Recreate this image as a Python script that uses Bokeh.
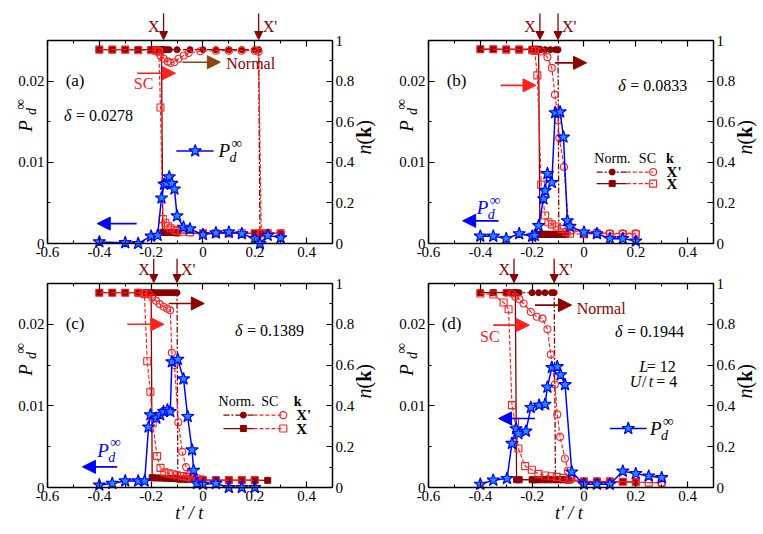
from math import pi
from bokeh.plotting import figure
from bokeh.models import LinearAxis, Range1d, FixedTicker, Label, Arrow, NormalHead
from bokeh.layouts import gridplot
from bokeh.embed import file_html
from bokeh.resources import INLINE

# ---------------- axis ticks / labels ----------------
x_ticks = [-0.6, -0.4, -0.2, 0, 0.2, 0.4]
x_minor = [-0.5, -0.3, -0.1, 0.1, 0.3, 0.5]
x_tick_labels = {-0.6: "-0.6", -0.4: "-0.4", -0.2: "-0.2", 0: "0", 0.2: "0.2", 0.4: "0.4"}
p_ticks = [0, 0.01, 0.02]
p_minor = [0.005, 0.015, 0.025]
p_tick_labels = {0: "0", 0.01: "0.01", 0.02: "0.02"}
n_ticks = [0, 0.2, 0.4, 0.6, 0.8, 1]
n_minor = [0.1, 0.3, 0.5, 0.7, 0.9]
n_tick_labels = {0: "0", 0.2: "0.2", 0.4: "0.4", 0.6: "0.6", 0.8: "0.8", 1: "1"}

# ---------------- panel (a) delta = 0.0278 ----------------
a_tp = [-0.4, -0.3, -0.25, -0.2, -0.175, -0.16, -0.15, -0.14, -0.13, -0.12, -0.11, -0.1, -0.075, -0.05, 0.0, 0.05, 0.1, 0.15, 0.2, 0.22, 0.25, 0.3]
a_pd = [0.0002, 0.0001, 0.0, 0.0009, 0.001, 0.0056, 0.0073, 0.0074, 0.0082, 0.0074, 0.0067, 0.0034, 0.002, 0.0018, 0.0011, 0.0013, 0.0014, 0.0012, 0.0006, 0.0, 0.001, 0.0007]
a_normX_t = [-0.4, -0.35, -0.3, -0.25, -0.2, -0.18, -0.16, -0.155, -0.15, -0.14, -0.13, -0.12, -0.11, -0.1, 0.0, 0.1, 0.2, 0.225, 0.25, 0.3]
a_normX_n = [0.955, 0.955, 0.955, 0.955, 0.955, 0.955, 0.955, 0.055, 0.055, 0.055, 0.055, 0.055, 0.055, 0.052, 0.05, 0.05, 0.05, 0.05, 0.05, 0.05]
a_normXp_t = [-0.17, -0.16, -0.15, -0.14, -0.13, -0.1, -0.05, 0.0, 0.05, 0.1, 0.15, 0.2, 0.215, 0.22, 0.25, 0.3]
a_normXp_n = [0.955, 0.955, 0.955, 0.955, 0.955, 0.955, 0.955, 0.955, 0.955, 0.955, 0.955, 0.955, 0.955, 0.05, 0.055, 0.05]
a_scX_t = [-0.4, -0.35, -0.3, -0.25, -0.2, -0.18, -0.17, -0.164, -0.155, -0.145, -0.135, -0.125, -0.11, -0.1, -0.08, -0.05, 0.0, 0.05, 0.1, 0.15, 0.2, 0.225, 0.25, 0.3]
a_scX_n = [0.955, 0.955, 0.955, 0.952, 0.952, 0.95, 0.945, 0.67, 0.12, 0.1, 0.085, 0.075, 0.068, 0.062, 0.058, 0.055, 0.05, 0.05, 0.05, 0.05, 0.05, 0.05, 0.05, 0.05]
a_scXp_t = [-0.174, -0.164, -0.151, -0.136, -0.125, -0.11, -0.094, -0.074, -0.055, -0.01, 0.05, 0.1, 0.15, 0.2, 0.215, 0.225, 0.25, 0.3]
a_scXp_n = [0.951, 0.926, 0.91, 0.897, 0.89, 0.893, 0.91, 0.926, 0.939, 0.947, 0.95, 0.95, 0.95, 0.95, 0.945, 0.05, 0.05, 0.05]

# ---------------- panel (b) delta = 0.0833 ----------------
b_tp = [-0.4, -0.35, -0.3, -0.25, -0.2, -0.19, -0.175, -0.156, -0.15, -0.141, -0.124, -0.111, -0.092, -0.079, -0.064, -0.054, 0.0, 0.05, 0.1, 0.15, 0.2]
b_pd = [0.0009, 0.0009, 0.0006, 0.0012, 0.0009, 0.001, 0.0022, 0.0055, 0.0065, 0.0086, 0.0075, 0.0161, 0.0162, 0.0131, 0.0028, 0.0021, 0.0014, 0.0012, 0.0006, 0.0006, 0.0003]
b_normX_t = [-0.4, -0.35, -0.3, -0.25, -0.2, -0.19, -0.175, -0.17, -0.16, -0.15, -0.14, -0.13, -0.12, -0.11, -0.1, -0.09, -0.08, -0.07]
b_normX_n = [0.957, 0.957, 0.957, 0.957, 0.957, 0.957, 0.957, 0.045, 0.045, 0.045, 0.045, 0.045, 0.045, 0.045, 0.045, 0.045, 0.045, 0.045]
b_normXp_t = [-0.17, -0.15, -0.13, -0.11, -0.1, -0.097, -0.09, -0.08, -0.07]
b_normXp_n = [0.955, 0.955, 0.955, 0.955, 0.955, 0.045, 0.045, 0.045, 0.045]
b_scX_t = [-0.4, -0.35, -0.3, -0.25, -0.2, -0.19, -0.18, -0.165, -0.15, -0.137, -0.124, -0.105, -0.086, -0.067, -0.054, 0.0, 0.05, 0.1, 0.15, 0.2]
b_scX_n = [0.957, 0.957, 0.955, 0.955, 0.952, 0.948, 0.828, 0.29, 0.138, 0.105, 0.094, 0.084, 0.072, 0.056, 0.048, 0.046, 0.049, 0.046, 0.046, 0.046]
b_scXp_t = [-0.188, -0.163, -0.141, -0.124, -0.112, -0.1, -0.095, -0.077, -0.06, -0.045, 0.0, 0.05, 0.1, 0.15, 0.2]
b_scXp_n = [0.951, 0.946, 0.918, 0.865, 0.733, 0.607, 0.52, 0.377, 0.1, 0.066, 0.05, 0.055, 0.05, 0.05, 0.05]

# ---------------- panel (c) delta = 0.1389 ----------------
c_tp = [-0.4, -0.35, -0.3, -0.25, -0.225, -0.21, -0.203, -0.18, -0.165, -0.152, -0.137, -0.126, -0.12, -0.097, -0.075, -0.059, -0.042, -0.036, -0.023, 0.0, 0.05, 0.1, 0.15, 0.2]
c_pd = [0.0003, 0.0005, 0.0008, 0.0008, 0.0008, 0.0074, 0.0089, 0.0085, 0.0089, 0.0093, 0.0095, 0.0093, 0.0154, 0.0157, 0.0133, 0.0087, 0.0046, 0.0021, 0.0005, 0.0004, 0.0005, 0.0, 0.0, 0.0]
c_normX_t = [-0.4, -0.35, -0.3, -0.25, -0.22, -0.2, -0.196, -0.18, -0.16, -0.14, -0.12, -0.1, -0.08, -0.06, -0.04, -0.02, 0.0, 0.05, 0.1, 0.15, 0.2, 0.25]
c_normX_n = [0.955, 0.955, 0.955, 0.955, 0.955, 0.955, 0.048, 0.047, 0.046, 0.045, 0.044, 0.043, 0.042, 0.041, 0.04, 0.038, 0.036, 0.036, 0.036, 0.036, 0.036, 0.035]
c_normXp_t = [-0.2, -0.19, -0.18, -0.17, -0.16, -0.15, -0.14, -0.13, -0.12, -0.11, -0.1, -0.097, -0.09, -0.08, -0.07, -0.06]
c_normXp_n = [0.955, 0.955, 0.955, 0.955, 0.955, 0.955, 0.955, 0.955, 0.955, 0.955, 0.955, 0.04, 0.04, 0.04, 0.04, 0.04]
c_scX_t = [-0.4, -0.35, -0.3, -0.25, -0.226, -0.215, -0.203, -0.194, -0.177, -0.164, -0.149, -0.132, -0.117, -0.1, -0.081, -0.062, -0.042, -0.023, 0.0, 0.05, 0.1, 0.15, 0.2]
c_scX_n = [0.955, 0.955, 0.955, 0.955, 0.948, 0.619, 0.469, 0.314, 0.154, 0.096, 0.074, 0.069, 0.065, 0.06, 0.056, 0.052, 0.044, 0.036, 0.036, 0.036, 0.036, 0.036, 0.036]
c_scXp_t = [-0.25, -0.23, -0.209, -0.196, -0.181, -0.167, -0.151, -0.138, -0.126, -0.12, -0.11, -0.095, -0.08, -0.065, -0.05, -0.04, -0.02, 0.0]
c_scXp_n = [0.955, 0.952, 0.948, 0.931, 0.915, 0.899, 0.886, 0.877, 0.869, 0.66, 0.6, 0.32, 0.175, 0.1, 0.065, 0.05, 0.045, 0.04]

# ---------------- panel (d) delta = 0.1944 ----------------
d_tp = [-0.4, -0.35, -0.297, -0.278, -0.262, -0.253, -0.224, -0.205, -0.173, -0.15, -0.141, -0.124, -0.103, -0.09, -0.073, -0.047, 0.0, 0.05, 0.1, 0.15, 0.2, 0.25, 0.3]
d_pd = [0.0004, 0.0009, 0.0011, 0.0054, 0.0072, 0.0066, 0.0069, 0.0098, 0.0101, 0.0102, 0.0123, 0.0147, 0.0148, 0.0138, 0.0126, 0.0019, 0.0004, 0.0004, 0.0004, 0.002, 0.0017, 0.0014, 0.0012]
d_normX_t = [-0.4, -0.35, -0.3, -0.28, -0.265, -0.26, -0.25, -0.2, -0.19, -0.18, -0.16, -0.14, -0.12, -0.1, -0.08, -0.06, 0.0, 0.05, 0.1, 0.15, 0.2]
d_normX_n = [0.955, 0.955, 0.955, 0.955, 0.955, 0.038, 0.038, 0.038, 0.038, 0.038, 0.038, 0.038, 0.038, 0.038, 0.038, 0.036, 0.028, 0.028, 0.028, 0.028, 0.028]
d_normXp_t = [-0.265, -0.25, -0.2, -0.175, -0.15, -0.125, -0.115, -0.11, -0.1, -0.09, -0.08]
d_normXp_n = [0.955, 0.955, 0.955, 0.955, 0.955, 0.955, 0.955, 0.038, 0.038, 0.038, 0.038]
d_scX_t = [-0.4, -0.35, -0.31, -0.291, -0.278, -0.266, -0.253, -0.227, -0.201, -0.176, -0.15, -0.125, -0.105, -0.08, -0.054, 0.0, 0.05, 0.1, 0.15, 0.2, 0.25, 0.3]
d_scX_n = [0.951, 0.946, 0.907, 0.874, 0.404, 0.322, 0.191, 0.105, 0.087, 0.067, 0.059, 0.055, 0.052, 0.047, 0.041, 0.031, 0.03, 0.03, 0.028, 0.026, 0.024, 0.023]
d_scXp_t = [-0.3, -0.276, -0.265, -0.249, -0.233, -0.205, -0.182, -0.16, -0.141, -0.128, -0.112, -0.103, -0.092, -0.073, -0.062, -0.05, 0.0, 0.1, 0.2, 0.3]
d_scXp_n = [0.955, 0.951, 0.935, 0.923, 0.902, 0.861, 0.837, 0.828, 0.776, 0.652, 0.505, 0.358, 0.248, 0.142, 0.082, 0.047, 0.03, 0.028, 0.026, 0.023]

# ---------------- styling ----------------
FONT = "Liberation Serif"
DARK = "#8B0000"
BROWN = "#8B4513"
RED = "#FF2020"
BLUE = "#0000FF"
STAR = "#1E90FF"
X0, X1 = -0.6, 0.5
PMAX = 0.025          # P_d axis top; n(k) axis 0..1 shares the same box
PIX = {}              # per-figure data units per screen pixel
MK = 6                # square / circle marker size
SK = 13               # star marker size


def style_axis(ax, ticks, minor, labels, show=True):
    ax.ticker = FixedTicker(ticks=ticks, minor_ticks=minor)
    ax.major_label_overrides = labels if show else {t: "" for t in ticks}
    ax.major_tick_in = 6
    ax.major_tick_out = 0
    ax.minor_tick_in = 3
    ax.minor_tick_out = 0
    ax.axis_line_width = 1.5
    ax.major_tick_line_width = 1.2
    ax.minor_tick_line_width = 1.0
    ax.axis_line_color = "black"
    ax.major_tick_line_color = "black"
    ax.minor_tick_line_color = "black"
    ax.major_label_text_font = FONT
    ax.major_label_text_font_size = "15px"
    ax.major_label_text_color = "black"
    ax.major_label_standoff = 3


def make_panel(cw, ch, fl, fr, ft, fb):
    """Canvas cw x ch px; the plot box spans px fl..fr horizontally and ft..fb vertically."""
    sx = (X1 - X0) / (fr - fl)
    sy = PMAX / (fb - ft)
    y0, y1 = -(ch - fb) * sy, PMAX + ft * sy
    p = figure(width=cw, height=ch,
               x_range=Range1d(X0 - fl * sx, X1 + (cw - fr) * sx),
               y_range=Range1d(y0, y1),
               x_axis_location=None, y_axis_location=None,
               output_backend="svg", toolbar_location=None, min_border=0)
    p.extra_y_ranges = {"n": Range1d(y0 / PMAX, y1 / PMAX)}
    p.grid.visible = False
    p.outline_line_color = None
    p.background_fill_color = "white"
    p.border_fill_color = "white"
    left = LinearAxis(fixed_location=X0, bounds=(0, PMAX))
    style_axis(left, p_ticks, p_minor, p_tick_labels)
    p.add_layout(left, "left")
    right = LinearAxis(y_range_name="n", fixed_location=X1, bounds=(0, 1))
    style_axis(right, n_ticks, n_minor, n_tick_labels)
    p.add_layout(right, "right")
    bottom = LinearAxis(fixed_location=0, bounds=(X0, X1))
    style_axis(bottom, x_ticks, x_minor, x_tick_labels)
    p.add_layout(bottom, "below")
    top = LinearAxis(fixed_location=PMAX, bounds=(X0, X1))
    style_axis(top, x_ticks, x_minor, {}, show=False)
    p.add_layout(top, "above")
    PIX[p.id] = (sx, sy)
    return p


def txt(p, x, y, s, size=16, color="black", style="normal", align="left", baseline="middle", angle=0):
    p.add_layout(Label(x=x, y=y, text=s, text_font=FONT, text_font_size=f"{size}px",
                       text_color=color, text_font_style=style, text_align=align,
                       text_baseline=baseline, angle=angle))


def arrow(p, x0, y0, x1, y1, color, size=13, width=1.6):
    p.add_layout(Arrow(end=NormalHead(size=size, fill_color=color, line_color=color, line_width=1),
                       x_start=x0, y_start=y0, x_end=x1, y_end=y1,
                       line_color=color, line_width=width))


def curves(p, nx_t, nx_n, nxp_t, nxp_n, sx_t, sx_n, sxp_t, sxp_n, tp, pd):
    p.line(nx_t, nx_n, y_range_name="n", line_color=DARK, line_width=1.3)
    p.scatter(nx_t, nx_n, y_range_name="n", marker="square", size=MK, line_color=DARK, fill_color=DARK)
    p.line(nxp_t, nxp_n, y_range_name="n", line_color=DARK, line_width=1.3, line_dash="6 2 2 2")
    p.scatter(nxp_t, nxp_n, y_range_name="n", marker="circle", size=MK, line_color=DARK, fill_color=DARK)
    p.line(sx_t, sx_n, y_range_name="n", line_color=RED, line_width=1.2, line_dash="4 2")
    p.scatter(sx_t, sx_n, y_range_name="n", marker="square", size=MK + 1, line_color=RED, fill_color=None, line_width=1.1)
    p.line(sxp_t, sxp_n, y_range_name="n", line_color=RED, line_width=1.2, line_dash="4 2")
    p.scatter(sxp_t, sxp_n, y_range_name="n", marker="circle", size=MK + 1, line_color=RED, fill_color=None, line_width=1.1)
    p.line(tp, pd, line_color=BLUE, line_width=1.5)
    p.scatter(tp, pd, marker="star", size=SK, line_color=BLUE, fill_color=STAR, line_width=1.2)


def frame_labels(p, tag, tag_x, tag_n, delta, dx, dn):
    px, py = PIX[p.id]
    # left axis title P_d^inf (rotated)
    txt(p, X0 - 22.5 * px, 117.5 * py, "P", size=19, style="italic", align="center", angle=pi / 2)
    txt(p, X0 - 16.5 * px, 132 * py, "d", size=14, style="italic", align="center", angle=pi / 2)
    txt(p, X0 - 27.5 * px, 134 * py, "\u221e", size=15, angle=pi / 2)
    # right axis title n(k) (rotated)
    xr = X1 + 31 * px
    y0 = 89
    txt(p, xr, y0 * py, "n", size=20, style="italic", angle=pi / 2)
    txt(p, xr, (y0 + 10) * py, "(", size=20, angle=pi / 2)
    txt(p, xr, (y0 + 16.7) * py, "k", size=20, style="bold", angle=pi / 2)
    txt(p, xr, (y0 + 27.8) * py, ")", size=20, angle=pi / 2)
    # panel tag and delta
    txt(p, tag_x, tag_n * PMAX, tag, size=17)
    txt(p, dx, dn * PMAX, "\u03b4", size=16, style="italic")
    txt(p, dx + 12 * px, dn * PMAX, "= " + delta, size=16)


def top_arrows(p, xX, xXp, top_gap):
    px, py = PIX[p.id]
    y_top = PMAX + top_gap * py
    for xv in (xX, xXp):
        p.add_layout(Arrow(end=NormalHead(size=8, fill_color=DARK, line_color=DARK),
                           x_start=xv, y_start=y_top, x_end=xv, y_end=PMAX + 1 * py,
                           line_color=DARK, line_width=1.3))
    ylab = PMAX + 14 * py
    txt(p, xX - 4 * px, ylab, "X", size=16, color=DARK, align="right")
    txt(p, xXp + 4 * px, ylab, "X'", size=16, color=DARK, align="left")


def pd_text(p, x, y, color="black"):
    px, py = PIX[p.id]
    txt(p, x, y, "P", size=19, style="italic", color=color)
    txt(p, x + 11 * px, y - 7 * py, "d", size=14, style="italic", color=color)
    txt(p, x + 13 * px, y + 8 * py, "\u221e", size=15, color=color)


def norm_sc_legend(p, xs, rows_n, head_n, x_norm, x_sc, x_k, x_lab):
    d0, dm, sp, rm = xs
    txt(p, x_norm, head_n * PMAX, "Norm.", size=14, align="center")
    txt(p, x_sc, head_n * PMAX, "SC", size=14, align="center")
    txt(p, x_k, head_n * PMAX, "k", size=14, style="bold", align="center")
    for (rn, lab, mk, dash) in zip(rows_n, ["X'", "X"], ["circle", "square"], ["6 2 2 2", "solid"]):
        p.line([d0, sp], [rn, rn], y_range_name="n", line_color=DARK, line_width=1.3, line_dash=dash)
        p.scatter([dm], [rn], y_range_name="n", marker=mk, size=MK, line_color=DARK, fill_color=DARK)
        p.line([sp, rm], [rn, rn], y_range_name="n", line_color=RED, line_width=1.2, line_dash="4 2")
        p.scatter([rm], [rn], y_range_name="n", marker=mk, size=MK + 1, line_color=RED, fill_color=None, line_width=1.1)
        txt(p, x_lab, rn * PMAX, lab, size=15, style="bold")


# ---------------- panel (a) ----------------
pa = make_panel(389, 258, 47, 332, 40, 243)
curves(pa, a_normX_t, a_normX_n, a_normXp_t, a_normXp_n, a_scX_t, a_scX_n, a_scXp_t, a_scXp_n, a_tp, a_pd)
frame_labels(pa, "(a)", -0.53, 0.803, "0.0278", -0.536, 0.631)
top_arrows(pa, -0.152, 0.215, 27)
arrow(pa, -0.254, 0.839 * PMAX, -0.106, 0.839 * PMAX, RED)
txt(pa, -0.267, 0.787 * PMAX, "SC", size=16, color=RED)
arrow(pa, -0.08, 0.893 * PMAX, 0.067, 0.893 * PMAX, BROWN)
txt(pa, 0.09, 0.889 * PMAX, "Normal", size=16, color=DARK)
arrow(pa, -0.256, 0.00245, -0.408, 0.00245, BLUE)
pa.line([-0.103, 0.041], [0.0114, 0.0114], line_color=BLUE, line_width=1.5)
pa.scatter([-0.03], [0.0114], marker="star", size=SK, line_color=BLUE, fill_color=STAR, line_width=1.2)
pd_text(pa, 0.06, 0.0114)

# ---------------- panel (b) ----------------
pb = make_panel(372, 258, 39, 324, 40, 243)
curves(pb, b_normX_t, b_normX_n, b_normXp_t, b_normXp_n, b_scX_t, b_scX_n, b_scXp_t, b_scXp_n, b_tp, b_pd)
frame_labels(pb, "(b)", -0.53, 0.803, "0.0833", 0.132, 0.779)
top_arrows(pb, -0.17, -0.1, 27)
arrow(pb, -0.321, 0.779 * PMAX, -0.185, 0.779 * PMAX, RED)
arrow(pb, -0.112, 0.89 * PMAX, 0.01, 0.89 * PMAX, DARK)
arrow(pb, -0.33, 0.00279, -0.468, 0.00279, BLUE)
pd_text(pb, -0.414, 0.00443, color=BLUE)
norm_sc_legend(pb, (0.049, 0.109, 0.165, 0.267), (0.352, 0.295), 0.418, 0.11, 0.245, 0.332, 0.319)

# ---------------- panel (c) ----------------
pc = make_panel(389, 274, 47, 332, 25, 229)
curves(pc, c_normX_t, c_normX_n, c_normXp_t, c_normXp_n, c_scX_t, c_scX_n, c_scXp_t, c_scXp_n, c_tp, c_pd)
frame_labels(pc, "(c)", -0.53, 0.804, "0.1389", 0.124, 0.771)
top_arrows(pc, -0.19, -0.1, 25)
arrow(pc, -0.292, 0.80 * PMAX, -0.151, 0.80 * PMAX, RED)
arrow(pc, -0.132, 0.902 * PMAX, 0.005, 0.902 * PMAX, DARK)
arrow(pc, -0.331, 0.00253, -0.465, 0.00253, BLUE)
pd_text(pc, -0.408, 0.00458, color=BLUE)
norm_sc_legend(pc, (0.079, 0.156, 0.195, 0.31), (0.355, 0.289), 0.42, 0.13, 0.258, 0.365, 0.36)
txt(pc, -0.053, -25 * PIX[pc.id][1], "t' / t", size=18, style="italic", align="center")

# ---------------- panel (d) ----------------
pdp = make_panel(372, 274, 39, 324, 25, 229)
curves(pdp, d_normX_t, d_normX_n, d_normXp_t, d_normXp_n, d_scX_t, d_scX_n, d_scXp_t, d_scXp_n, d_tp, d_pd)
frame_labels(pdp, "(d)", -0.549, 0.804, "0.1944", 0.12, 0.763)
top_arrows(pdp, -0.27, -0.115, 25)
arrow(pdp, -0.35, 0.796 * PMAX, -0.211, 0.796 * PMAX, RED)
txt(pdp, -0.401, 0.739 * PMAX, "SC", size=16, color=RED)
arrow(pdp, -0.189, 0.894 * PMAX, -0.048, 0.894 * PMAX, DARK)
txt(pdp, -0.028, 0.877 * PMAX, "Normal", size=16, color=DARK)
arrow(pdp, -0.189, 0.00846, -0.33, 0.00846, BLUE)
pdp.line([0.1, 0.242], [0.00723, 0.00723], line_color=BLUE, line_width=1.5)
pdp.scatter([0.171], [0.00723], marker="star", size=SK, line_color=BLUE, fill_color=STAR, line_width=1.2)
pd_text(pdp, 0.255, 0.00723)
txt(pdp, 0.213, 0.592 * PMAX, "L", size=16, style="italic")
txt(pdp, 0.242, 0.592 * PMAX, "= 12", size=16)
txt(pdp, 0.177, 0.521 * PMAX, "U", size=16, style="italic")
txt(pdp, 0.224, 0.521 * PMAX, "/", size=16)
txt(pdp, 0.25, 0.521 * PMAX, "t", size=16, style="italic")
txt(pdp, 0.279, 0.521 * PMAX, "= 4", size=16)
txt(pdp, -0.058, -25 * PIX[pdp.id][1], "t' / t", size=18, style="italic", align="center")

grid = gridplot([[pa, pb], [pc, pdp]], toolbar_location=None)
open("out.html", "w").write(file_html(grid, INLINE))
